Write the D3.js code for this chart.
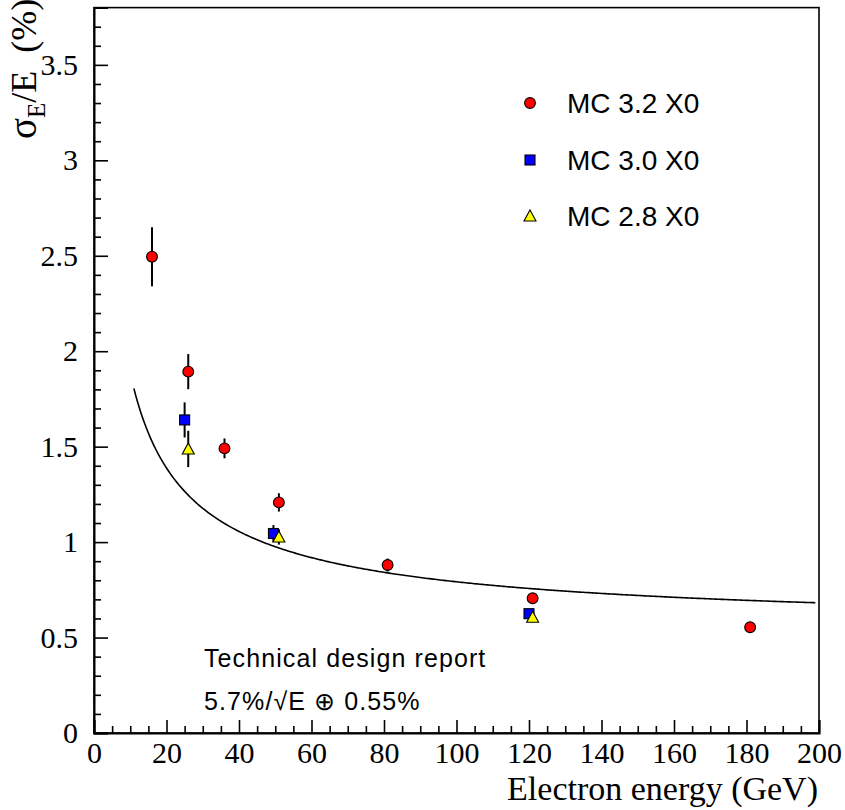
<!DOCTYPE html>
<html>
<head>
<meta charset="utf-8">
<script src="https://cdn.jsdelivr.net/npm/d3@7"></script>
<style>
  html, body { margin: 0; padding: 0; background: #fff; }
  svg { display: block; }
</style>
</head>
<body>
<svg id="chart" width="845" height="810"></svg>
<script>
// Energy resolution of the calorimeter for three absorber thicknesses
const energyRed = [16, 26, 36, 51, 81, 121, 181];
const sigmaRed  = [2.495, 1.893, 1.491, 1.208, 0.880, 0.706, 0.554];
const errRed    = [0.155, 0.092, 0.052, 0.048, 0.034, 0.010, 0.010];

const energyBlue = [25, 49.5, 120];
const sigmaBlue  = [1.640, 1.045, 0.625];
const errBlue    = [0.092, 0.044, 0.010];

const energyYellow = [26, 51, 121];
const sigmaYellow  = [1.488, 1.027, 0.606];
const errYellow    = [0.095, 0.040, 0.010];

const seriesNames = ["MC 3.2 X0", "MC 3.0 X0", "MC 2.8 X0"];

// Design resolution: stochastic term (%·√GeV) and constant term (%)
const stochTerm = 5.7;
const constTerm = 0.55;
const curveRange = [11, 199];

const xTicksMajor = [0, 20, 40, 60, 80, 100, 120, 140, 160, 180, 200];
const yTicksMajor = [0, 0.5, 1, 1.5, 2, 2.5, 3, 3.5];
const yTickLabels = ["0", "0.5", "1", "1.5", "2", "2.5", "3", "3.5"];

const serif = "'Liberation Serif', 'Times New Roman', serif";
const sans = "'Liberation Sans', Arial, sans-serif";

const svg = d3.select("#chart");
const plotL = 94, plotR = 819, plotT = 7.6, plotB = 733;

const x = d3.scaleLinear().domain([0, 200]).range([plotL, plotR]);
const y = d3.scaleLinear().domain([0, 3.8]).range([plotB, plotT]);

// frame
svg.append("rect")
  .attr("x", plotL).attr("y", plotT)
  .attr("width", plotR - plotL).attr("height", plotB - plotT)
  .attr("fill", "none").attr("stroke", "#000").attr("stroke-width", 1.6);

// x axis: minor ticks every 5, major every 20, drawn inwards
const xMinor = d3.range(0, 201, 5).filter(v => v % 20 !== 0);
svg.append("g").attr("transform", `translate(0,${plotB})`)
  .call(d3.axisBottom(x).tickValues(xMinor).tickSize(-7).tickFormat(""))
  .call(g => g.select(".domain").remove())
  .call(g => g.selectAll(".tick line").attr("stroke-width", 1.6));
svg.append("g").attr("transform", `translate(0,${plotB})`)
  .attr("font-family", serif)
  .call(d3.axisBottom(x).tickValues(xTicksMajor).tickSize(-13).tickPadding(9).tickFormat(d3.format("d")))
  .call(g => g.attr("font-family", serif).attr("font-size", 30))
  .call(g => g.select(".domain").attr("stroke-width", 2))
  .call(g => g.selectAll(".tick line").attr("stroke-width", 1.6))
  .call(g => g.selectAll(".tick text").attr("font-family", serif).attr("fill", "#000"));

// y axis: minor ticks every 0.1, major every 0.5
const yMinor = d3.range(0, 38).map(i => i / 10).filter(v => Math.abs(v * 2 - Math.round(v * 2)) > 1e-6);
svg.append("g").attr("transform", `translate(${plotL},0)`)
  .call(d3.axisLeft(y).tickValues(yMinor).tickSize(-7).tickFormat(""))
  .call(g => g.select(".domain").remove())
  .call(g => g.selectAll(".tick line").attr("stroke-width", 1.6));
svg.append("g").attr("transform", `translate(${plotL},0)`)
  .call(d3.axisLeft(y).tickValues(yTicksMajor).tickSize(-14).tickPadding(16)
        .tickFormat((d, i) => yTickLabels[i]))
  .call(g => g.attr("font-family", serif).attr("font-size", 30))
  .call(g => g.select(".domain").attr("stroke-width", 2))
  .call(g => g.selectAll(".tick line").attr("stroke-width", 1.6))
  .call(g => g.selectAll(".tick text").attr("font-family", serif).attr("fill", "#000"));

// axis titles
svg.append("text")
  .attr("x", 818).attr("y", 800)
  .attr("text-anchor", "end")
  .attr("font-family", serif)
  .attr("font-size", 34)
  .text("Electron energy (GeV)");

const yt = svg.append("text")
  .attr("transform", "translate(36,139) rotate(-90)")
  .attr("font-family", serif)
  .attr("font-size", 36);
yt.append("tspan").attr("font-size", 39).text("σ");
yt.append("tspan").attr("font-size", 25).attr("dy", 9).text("E");
yt.append("tspan").attr("dy", -9).text("/E");
yt.append("tspan").attr("dx", 18).text("(%)");

// resolution curve
const curveE = d3.range(curveRange[0], curveRange[1] + 0.001, 0.5);
const line = d3.line()
  .x(e => x(e))
  .y(e => y(Math.hypot(stochTerm / Math.sqrt(e), constTerm)));
svg.append("path")
  .datum(curveE)
  .attr("d", line)
  .attr("fill", "none").attr("stroke", "#000").attr("stroke-width", 1.6);

// data series
const series = [
  { e: energyRed, v: sigmaRed, err: errRed, color: "#ff0000", shape: "circle" },
  { e: energyBlue, v: sigmaBlue, err: errBlue, color: "#0000ff", shape: "square" },
  { e: energyYellow, v: sigmaYellow, err: errYellow, color: "#ffff00", shape: "triangle" }
];

function marker(g, shape, color) {
  if (shape === "circle") {
    g.append("circle").attr("r", 5.4).attr("fill", color).attr("stroke", "#000").attr("stroke-width", 1.1);
  } else if (shape === "square") {
    g.append("rect").attr("x", -5).attr("y", -5).attr("width", 10).attr("height", 10)
      .attr("fill", color).attr("stroke", "#000").attr("stroke-width", 1.1);
  } else {
    g.append("path").attr("d", "M0,-6 L6,5 L-6,5 Z")
      .attr("fill", color).attr("stroke", "#000").attr("stroke-width", 1.1);
  }
}

series.forEach(s => {
  const pts = s.e.map((e, i) => ({ e, v: s.v[i], err: s.err[i] }));
  svg.append("g").selectAll("line").data(pts).join("line")
    .attr("x1", d => x(d.e)).attr("x2", d => x(d.e))
    .attr("y1", d => y(d.v - d.err)).attr("y2", d => y(d.v + d.err))
    .attr("stroke", "#000").attr("stroke-width", 2);
});
series.forEach(s => {
  s.e.forEach((e, i) => {
    const g = svg.append("g").attr("transform", `translate(${x(e)},${y(s.v[i])})`);
    marker(g, s.shape, s.color);
  });
});

// legend
const legendY = [103, 160, 216];
series.forEach((s, i) => {
  const g = svg.append("g").attr("transform", `translate(530,${legendY[i]})`);
  marker(g, s.shape, s.color);
  svg.append("text")
    .attr("x", 567).attr("y", legendY[i] + 10)
    .attr("font-family", sans)
    .attr("font-size", 28)
    .text(seriesNames[i]);
});

// annotation
svg.append("text")
  .attr("x", 204).attr("y", 667)
  .attr("font-family", sans)
  .attr("font-size", 25)
  .attr("letter-spacing", 1.1)
  .text("Technical design report");
svg.append("text")
  .attr("x", 204).attr("y", 710)
  .attr("font-family", sans)
  .attr("font-size", 25)
  .attr("letter-spacing", 1.1)
  .text(`${stochTerm}%/√E ⊕ ${constTerm}%`);
</script>
</body>
</html>
